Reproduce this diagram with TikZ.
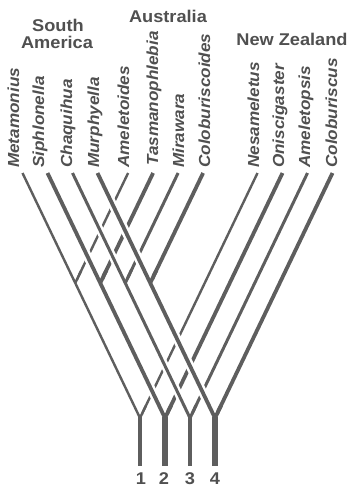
\documentclass[tikz,border=0pt]{standalone}
\usepackage{fontspec}
\newfontfamily\labfont{Liberation Sans}[FakeStretch=1.07]
\usetikzlibrary{calc}
\definecolor{ink}{HTML}{5E5E5E}
\definecolor{txt}{HTML}{505050}
\begin{document}
\begin{tikzpicture}[x=1pt,y=-1pt,
  taxon/.style={rotate=90, anchor=mid west, inner sep=0pt, text=txt,
    font=\labfont\bfseries\itshape\fontsize{16}{18}\selectfont},
  head/.style={inner sep=0pt, text=txt, font=\labfont\bfseries\fontsize{17}{18}\selectfont},
  num/.style={inner sep=0pt, text=txt, font=\labfont\bfseries\fontsize{17}{18}\selectfont},
  arm/.style={draw=ink, line cap=butt}]
\useasboundingbox[fill=white] (0,0) rectangle (352,488);

% coordinates of the four lineages
\foreach \k/\x in {1/140,2/165,3/190,4/215}{
  \coordinate (f\k) at (\x,418);
  \coordinate (s\k) at (\x,466);
  \coordinate (sa\k) at (\x-117.5,173);
  \coordinate (nz\k) at (\x+117.5,173);
  \coordinate (br\k) at (\x-64.75,283);
  \coordinate (au\k) at (\x-11.9,173);
}

% up-right lines (New Zealand arms and Australian branches)
\foreach \k/\w in {1/2.4,2/3.8,3/3.0,4/3.8}{
  \draw[arm, line width=\w pt] (f\k) -- (nz\k);
  \draw[arm, line width=\w pt] (br\k) -- (au\k);
}
% up-left lines (South American arms), passing in front
\foreach \k/\w in {1/2.4,2/3.8,3/3.0,4/3.8}{
  \pgfmathsetmacro\hw{\w+5}
  \draw[arm, line width=\w pt, preaction={draw=white, line width=\hw pt}] (sa\k) -- (f\k);
}
% restore the starts of the up-right lines
\foreach \k/\w in {1/2.4,2/3.8,3/3.0,4/3.8}{
  \draw[arm, line width=\w pt] (f\k) -- ($(f\k)!14pt!(nz\k)$);
  \draw[arm, line width=\w pt] (br\k) -- ($(br\k)!14pt!(au\k)$);
}
% stems
\foreach \k/\w in {1/4.2,2/5.8,3/4.6,4/5.2}{
  \draw[arm, line width=\w pt] ($(f\k)+(0,-1)$) -- (s\k);
}

% taxon names
\node[taxon] (t1)  at (17,168)  {Metamonius};
\node[taxon] (t2)  at (42,168)  {Siphlonella};
\node[taxon] (t3)  at (70,168)  {Chaquihua};
\node[taxon] (t4)  at (97,168)  {Murphyella};
\node[taxon] (t5)  at (127,168) {Ameletoides};
\node[taxon] (t6)  at (156,166) {Tasmanophlebia};
\node[taxon] (t7)  at (182,168) {Mirawara};
\node[taxon] (t8)  at (208,168) {Coloburiscoides};
\node[taxon] (t9)  at (257,168) {Nesameletus};
\node[taxon] (t10) at (282,168) {Oniscigaster};
\node[taxon] (t11) at (308,168) {Ameletopsis};
\node[taxon] (t12) at (335,168) {Coloburiscus};

% region headings
\node[head] (hSA1) at (58,25) {South};
\node[head] (hSA2) at (57,42) {America};
\node[head] (hAU)  at (168,16) {Australia};
\node[head] (hNZ)  at (292,39) {New Zealand};

% lineage numbers
\node[num] (n1) at (141,479) {1};
\node[num] (n2) at (164,479) {2};
\node[num] (n3) at (190,479) {3};
\node[num] (n4) at (215,479) {4};
\end{tikzpicture}
\end{document}
